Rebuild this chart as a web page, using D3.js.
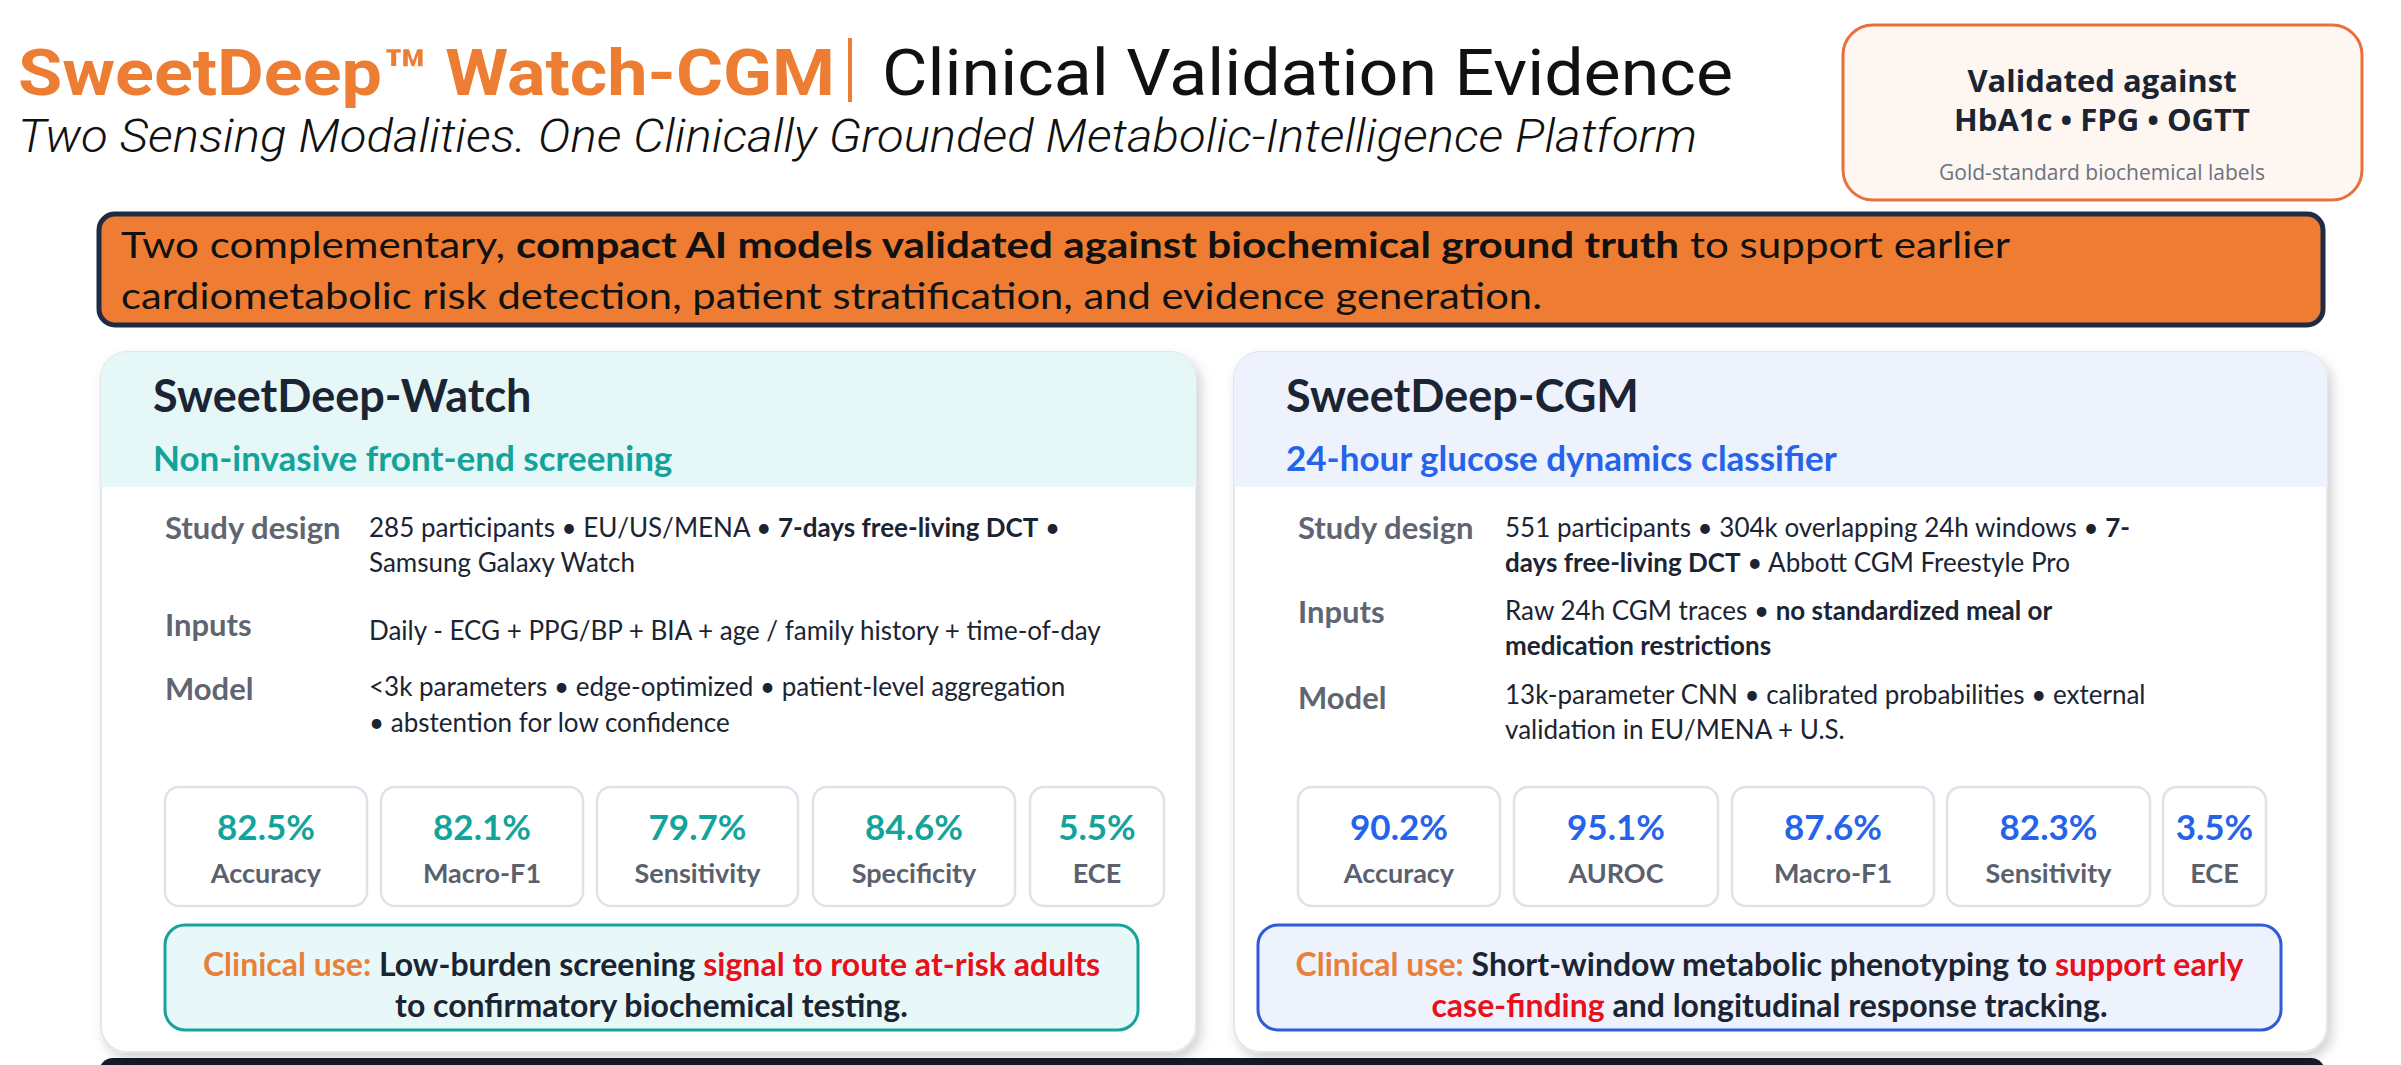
<!DOCTYPE html>
<html><head><meta charset="utf-8">
<script src="https://cdn.jsdelivr.net/npm/d3@7"></script>
<style>body{margin:0;background:#fff}svg{display:block}</style>
</head><body>
<script>
const titleParts = ["SweetDeep™ Watch-CGM", "Clinical Validation Evidence"];
const subtitle = "Two Sensing Modalities. One Clinically Grounded Metabolic-Intelligence Platform";
const badgeLines = ["Validated against", "HbA1c • FPG • OGTT", "Gold-standard biochemical labels"];
const bannerLines = [
  [["Two complementary, ",0],["compact AI models validated against biochemical ground truth",1],[" to support earlier",0]],
  [["cardiometabolic risk detection, patient stratification, and evidence generation.",0]]
];
const cardNames = ["SweetDeep-Watch","SweetDeep-CGM"];
const cardSubs = ["Non-invasive front-end screening","24-hour glucose dynamics classifier"];
const rowLabels = ["Study design","Inputs","Model"];
const watchRows = [
  [[["285 participants • EU/US/MENA • ",0],["7-days free-living DCT",1],[" •",0]],[["Samsung Galaxy Watch",0]]],
  [[["Daily - ECG + PPG/BP + BIA + age / family history + time-of-day",0]]],
  [[["<3k parameters • edge-optimized • patient-level aggregation",0]],[["• abstention for low confidence",0]]]
];
const cgmRows = [
  [[["551 participants • 304k overlapping 24h windows • ",0],["7-",1]],[["days free-living DCT",1],[" • Abbott CGM Freestyle Pro",0]]],
  [[["Raw 24h CGM traces • ",0],["no standardized meal or",1]],[["medication restrictions",1]]],
  [[["13k-parameter CNN • calibrated probabilities • external",0]],[["validation in EU/MENA + U.S.",0]]]
];
const watchMetricNames = ["Accuracy","Macro-F1","Sensitivity","Specificity","ECE"];
const watchMetricValues = [82.5, 82.1, 79.7, 84.6, 5.5];
const cgmMetricNames = ["Accuracy","AUROC","Macro-F1","Sensitivity","ECE"];
const cgmMetricValues = [90.2, 95.1, 87.6, 82.3, 3.5];
const watchClinical = [[["Clinical use: ",2],["Low-burden screening ",0],["signal to route at-risk adults",3]],[["to confirmatory biochemical testing.",0]]];
const cgmClinical = [[["Clinical use: ",2],["Short-window metabolic phenotyping to ",0],["support early",3]],[["case-finding",3],[" and longitudinal response tracking.",0]]];

const W=2401,H=1065;
const svg=d3.select("body").append("svg").attr("width",W).attr("height",H).style("font-family","Lato, 'Noto Sans', sans-serif");
const defs=svg.append("defs");
const f=defs.append("filter").attr("id","sh").attr("x","-5%").attr("y","-5%").attr("width","110%").attr("height","115%");
f.append("feDropShadow").attr("dx",4).attr("dy",6).attr("stdDeviation",6).attr("flood-color","#000").attr("flood-opacity",0.18);

const segColors={0:"#1b2433",1:"#1b2433",2:"#e8803a",3:"#e8101a"};
function rich(g,segs,x,y,opt){
  const t=g.append("text").attr("x",x).attr("y",y).attr("font-size",opt.size).attr("text-anchor",opt.anchor||"start");
  if(opt.len) t.attr("textLength",opt.len).attr("lengthAdjust","spacingAndGlyphs");
  segs.forEach(s=>t.append("tspan").text(s[0]).attr("font-weight",(s[1]>=1||opt.bold)?700:400)
    .attr("fill",opt.color&&s[1]<2?opt.color:segColors[s[1]]));
  return t;
}

// title
svg.append("text").attr("x",18).attr("y",95).attr("font-family","Roboto, sans-serif").attr("font-weight",700)
  .attr("font-size",64).attr("fill","#ec7d33").attr("textLength",817).attr("lengthAdjust","spacingAndGlyphs").text(titleParts[0]);
svg.append("rect").attr("x",848).attr("y",38).attr("width",4).attr("height",64).attr("fill","#ec7d33");
svg.append("text").attr("x",882).attr("y",95).attr("font-family","Roboto, sans-serif").attr("font-weight",400)
  .attr("font-size",64).attr("fill","#111").attr("textLength",851).attr("lengthAdjust","spacingAndGlyphs").text(titleParts[1]);
svg.append("text").attr("x",18).attr("y",152).attr("font-family","Roboto, sans-serif").attr("font-style","italic").attr("font-weight",300)
  .attr("font-size",46).attr("fill","#111").attr("textLength",1679).attr("lengthAdjust","spacingAndGlyphs").text(subtitle);

// badge
svg.append("rect").attr("x",1843).attr("y",25).attr("width",519).attr("height",175).attr("rx",30)
  .attr("fill","#fdf6f1").attr("stroke","#e8703a").attr("stroke-width",3);
svg.append("text").attr("x",2102).attr("y",92).attr("text-anchor","middle").attr("font-family","'Open Sans', sans-serif").attr("font-weight",700).attr("font-size",31).attr("fill","#1b2433").text(badgeLines[0]);
svg.append("text").attr("x",2102).attr("y",131).attr("text-anchor","middle").attr("font-family","'Open Sans', sans-serif").attr("font-weight",700).attr("font-size",31).attr("fill","#1b2433").text(badgeLines[1]);
svg.append("text").attr("x",2102).attr("y",180).attr("text-anchor","middle").attr("font-family","'Open Sans', sans-serif").attr("font-size",21).attr("fill","#6b7280").text(badgeLines[2]);

// banner
svg.append("rect").attr("x",99).attr("y",214).attr("width",2224).attr("height",111).attr("rx",16)
  .attr("fill","#ee7d33").attr("stroke","#1f2a44").attr("stroke-width",5);
rich(svg,bannerLines[0],121,258,{size:37,len:1889,color:"#111"});
rich(svg,bannerLines[1],121,309,{size:37,len:1421,color:"#111"});

// bottom next panel hint
svg.append("rect").attr("x",99).attr("y",1058).attr("width",2226).attr("height",30).attr("rx",14).attr("fill","#141a26");

const cards=[
 {x:101,w:1095,hdr:"#e6f7f7",sub:"#14a39a",rows:watchRows,names:watchMetricNames,vals:watchMetricValues,
  valX:369,labX:165,rowY:[[528,563],[631],[687,723]],labY:[528,625,689],
  boxes:[[165,202],[381,202],[597,201],[813,202],[1030,134]],clin:watchClinical,clinBox:[165,925,973,105],clinFill:"#e8f8f8",clinStroke:"#15a39a",clinY:[965,1006]},
 {x:1234,w:1093,hdr:"#eef2fd",sub:"#2563eb",rows:cgmRows,names:cgmMetricNames,vals:cgmMetricValues,
  valX:1505,labX:1298,rowY:[[528,563],[611,646],[695,730]],labY:[528,612,698],
  boxes:[[1298,202],[1514,204],[1732,202],[1947,203],[2163,103]],clin:cgmClinical,clinBox:[1258,925,1023,105],clinFill:"#eef2fd",clinStroke:"#2f5bd8",clinY:[965,1006]}
];
cards.forEach((c,i)=>{
  const g=svg.append("g");
  g.append("rect").attr("x",c.x).attr("y",352).attr("width",c.w).attr("height",700).attr("rx",26)
    .attr("fill","#fff").attr("stroke","#e3e7ec").attr("stroke-width",2).attr("filter","url(#sh)");
  g.append("path").attr("d",`M${c.x},${487} V${378} a26,26 0 0 1 26,-26 H${c.x+c.w-26} a26,26 0 0 1 26,26 V${487} Z`).attr("fill",c.hdr);
  g.append("text").attr("x",c.x+52).attr("y",412).attr("font-size",45).attr("font-weight",700).attr("fill","#1b2433").text(cardNames[i]);
  g.append("text").attr("x",c.x+52).attr("y",471).attr("font-size",35).attr("font-weight",700).attr("fill",c.sub).text(cardSubs[i]);
  rowLabels.forEach((l,k)=>g.append("text").attr("x",c.labX).attr("y",c.labY[k]+11).attr("font-size",31).attr("font-weight",700).attr("fill","#5f6672").text(l));
  c.rows.forEach((r,k)=>r.forEach((line,j)=>rich(g,line,c.valX,c.rowY[k][j]+9,{size:26,color:"#1b2433"})));
  c.boxes.forEach((b,k)=>{
    g.append("rect").attr("x",b[0]).attr("y",787).attr("width",b[1]).attr("height",119).attr("rx",14)
      .attr("fill","#fff").attr("stroke","#dde3ea").attr("stroke-width",2.5);
    g.append("text").attr("x",b[0]+b[1]/2).attr("y",840).attr("text-anchor","middle").attr("font-size",35).attr("font-weight",700).attr("fill",c.sub).text(d3.format(".1f")(c.vals[k])+"%");
    g.append("text").attr("x",b[0]+b[1]/2).attr("y",883).attr("text-anchor","middle").attr("font-size",27).attr("font-weight",700).attr("fill","#5a616d").text(c.names[k]);
  });
  const cb=c.clinBox;
  g.append("rect").attr("x",cb[0]).attr("y",cb[1]).attr("width",cb[2]).attr("height",cb[3]).attr("rx",20)
    .attr("fill",c.clinFill).attr("stroke",c.clinStroke).attr("stroke-width",3);
  c.clin.forEach((line,j)=>rich(g,line,cb[0]+cb[2]/2,c.clinY[j]+11,{size:32,anchor:"middle",bold:true}));
});
</script>
</body></html>
